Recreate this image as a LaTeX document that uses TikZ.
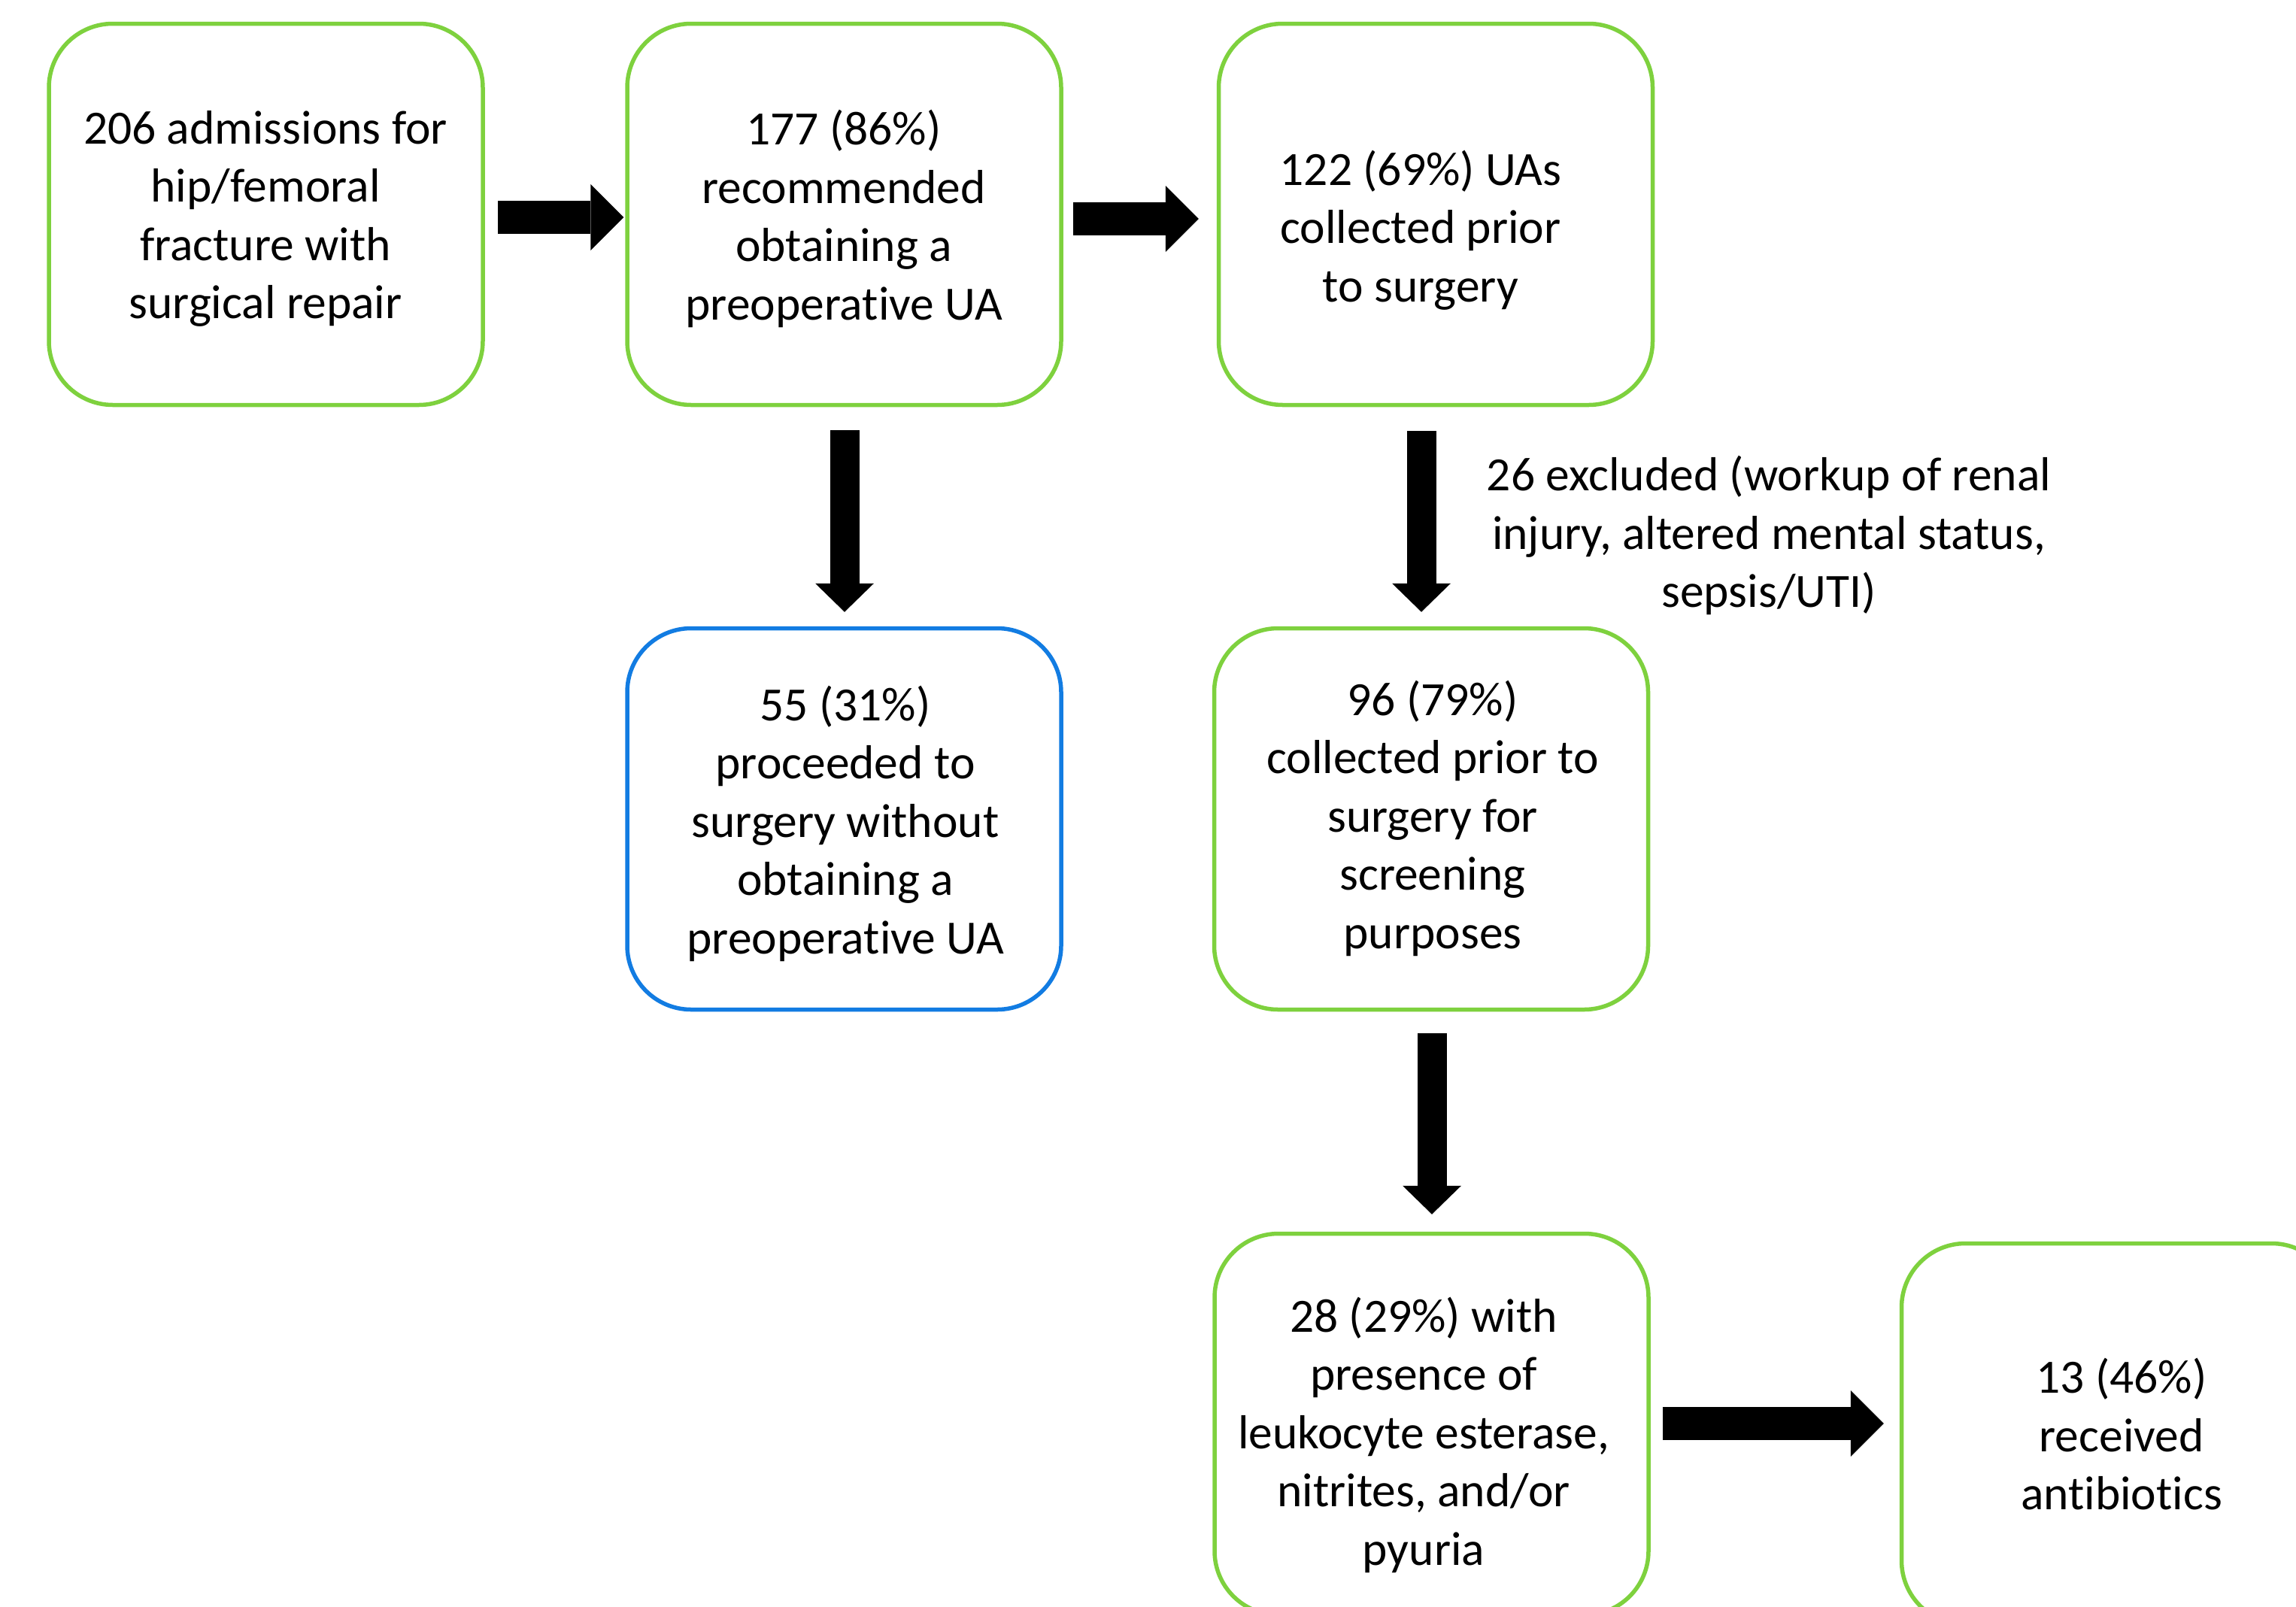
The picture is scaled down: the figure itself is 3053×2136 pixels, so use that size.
\documentclass[tikz,border=0pt]{standalone}
\usepackage{fontspec}
\setmainfont{Carlito}[Ligatures={NoCommon,NoContextual},RawFeature={-liga;-clig;-calt;-dlig}]
\usetikzlibrary{arrows.meta,calc}
\definecolor{boxgreen}{RGB}{126,209,62}
\definecolor{boxblue}{RGB}{18,124,226}
\newcommand{\nl}{\kern0pt }
\tikzset{
  box/.style={draw=boxgreen, line width=5.5pt, rounded corners=85pt, minimum width=577pt, minimum height=507pt, inner sep=0pt, fill=white},
  bluebox/.style={box, draw=boxblue},
  txt/.style={align=center, inner sep=0pt, font=\fontsize{63.5pt}{77.5pt}\selectfont},
  harrow/.style={line width=44pt, -{Triangle[length=44pt,width=88pt,line width=0pt]}},
  varrow/.style={line width=39pt, -{Triangle[length=38pt,width=78pt,line width=0pt]}}
}
\begin{document}
\begin{tikzpicture}[x=1pt,y=-1pt]
\clip (0,0) rectangle (3053,2136);
\fill[white] (0,0) rectangle (3053,2136);
% boxes
\node[box] (b1) at (353.5,285) {};
\node[box] (b2) at (1122.5,285) {};
\node[box] (b3) at (1909,285) {};
\node[bluebox] (b4) at (1122.5,1089) {};
\node[box] (b5) at (1903,1089) {};
\node[box] (b6) at (1903.5,1894) {};
\node[box] (b7) at (2817,1907) {};
% texts
\node[txt] (t1) at (353,291) {206 admissions for\\hip/femoral\\fracture with\\surgical repair};
\node[txt] (t2) at (1122,291) {177 (86\%)\\recommended\\obtaining a\\preoperat\nl ive UA};
\node[txt] (t3) at (1889,306) {122 (69\%) UAs\\collected prior\\to surgery};
\node[txt] (t4) at (1124,1095) {55 (31\%)\\proceeded to\\surgery without\\obtaining a\\preoperat\nl ive UA};
\node[txt] (t5) at (1905,1088) {96 (79\%)\\collected prior to\\surgery for\\screening\\purposes};
\node[txt] (t6) at (1893,1908) {28 (29\%) with\\presence of\\leukocyte esterase,\\nitrites, and/or\\pyuria};
\node[txt] (t7) at (2821,1907) {13 (46\%)\\received\\ant\nl ibiot\nl ics};
\node[txt] (lbl) at (2352,712) {26 excluded (workup of renal\\injury, altered mental status,\\sepsis/UTI)};
% arrows
\draw[harrow] ($(b1.east)+(17,4)$) -- ($(b2.west)+(-2,4)$);
\draw[harrow] ($(b2.east)+(13,6)$) -- ($(b3.west)+(-24,6)$);
\draw[varrow] ($(b2.south)+(0.5,31)$) -- ($(b4.north)+(0.5,-19)$);
\draw[varrow] ($(b3.south)+(-19,32)$) -- ($(b5.north)+(-13,-19)$);
\draw[varrow] ($(b5.south)+(1,29)$) -- ($(b6.north)+(0.5,-23)$);
\draw[harrow] ($(b6.east)+(16,-1)$) -- ($(b7.west)+(-21,-14)$);
\end{tikzpicture}
\end{document}
